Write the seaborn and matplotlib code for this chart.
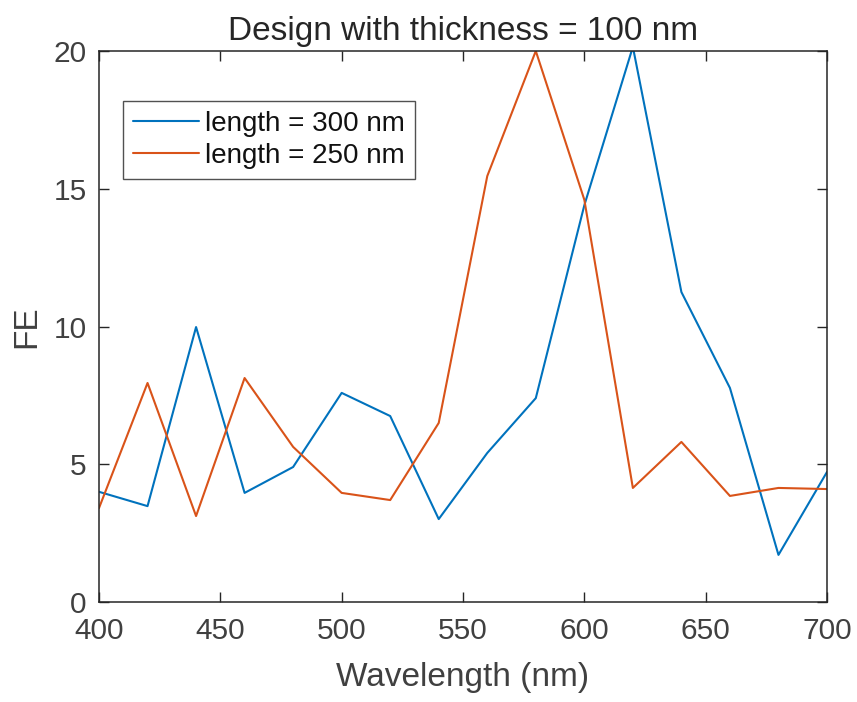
import numpy as np
import pandas as pd
import matplotlib
matplotlib.use("Agg")
import matplotlib.pyplot as plt
import seaborn as sns

wavelength = [400, 420, 440, 460, 480, 500, 520, 540, 560, 580, 600, 620, 640, 660, 680, 700]
fe_300 = [4.0, 3.48, 9.98, 3.96, 4.9, 7.59, 6.75, 3.01, 5.41, 7.4, 14.4, 20.15, 11.25, 7.77, 1.71, 4.72]
fe_250 = [3.41, 7.95, 3.12, 8.13, 5.63, 3.96, 3.70, 6.5, 15.46, 20.0, 14.6, 4.14, 5.81, 3.85, 4.14, 4.1]
labels = ["length = 300 nm", "length = 250 nm"]
colors = ["#0072BD", "#D95319"]
xticks = [400, 450, 500, 550, 600, 650, 700]
yticks = [0, 5, 10, 15, 20]

df = pd.concat([
    pd.DataFrame({"Wavelength": wavelength, "FE": fe_300, "series": labels[0]}),
    pd.DataFrame({"Wavelength": wavelength, "FE": fe_250, "series": labels[1]}),
])

sns.set_theme(style="white")
plt.rcParams["font.family"] = ["Liberation Sans", "DejaVu Sans"]
ink = "#262626"
tickink = "#404040"

fig = plt.figure(figsize=(8.57, 7.02), dpi=100)
ax = fig.add_axes([99/857, 100/702, 728/857, 551/702])
sns.lineplot(data=df, x="Wavelength", y="FE", hue="series", palette=colors,
             hue_order=labels, ax=ax, linewidth=1.5, legend=True)

ax.set_xlim(400, 700)
ax.set_ylim(0, 20)
ax.set_xticks(xticks)
ax.set_yticks(yticks)
ax.tick_params(direction="in", length=7, width=1, colors=ink, labelsize=21.5,
               labelcolor=tickink, top=True, right=True, bottom=True, left=True)
ax.tick_params(axis="x", pad=11)
ax.tick_params(axis="y", pad=9)
for s in ax.spines.values():
    s.set_visible(True)
    s.set_color(ink)
    s.set_linewidth(1.1)
ax.set_xlabel("Wavelength (nm)", fontsize=24, color=tickink, labelpad=12)
ax.set_ylabel("FE", fontsize=24, color=tickink, labelpad=8)
ax.set_title("Design with thickness = 100 nm", fontsize=24, color=ink, pad=8)

leg = ax.legend(loc="upper left", bbox_to_anchor=(0.033, 0.909), borderaxespad=0,
                fontsize=20, frameon=True, fancybox=False, handlelength=2.4,
                handletextpad=0.2, labelspacing=0.22, borderpad=0.35)
leg.get_frame().set_edgecolor(ink)
leg.get_frame().set_linewidth(1.0)
for t in leg.get_texts():
    t.set_color("#111111")
for h in leg.get_lines():
    h.set_linewidth(1.5)

fig.savefig("out.png", dpi=100, facecolor="white")
